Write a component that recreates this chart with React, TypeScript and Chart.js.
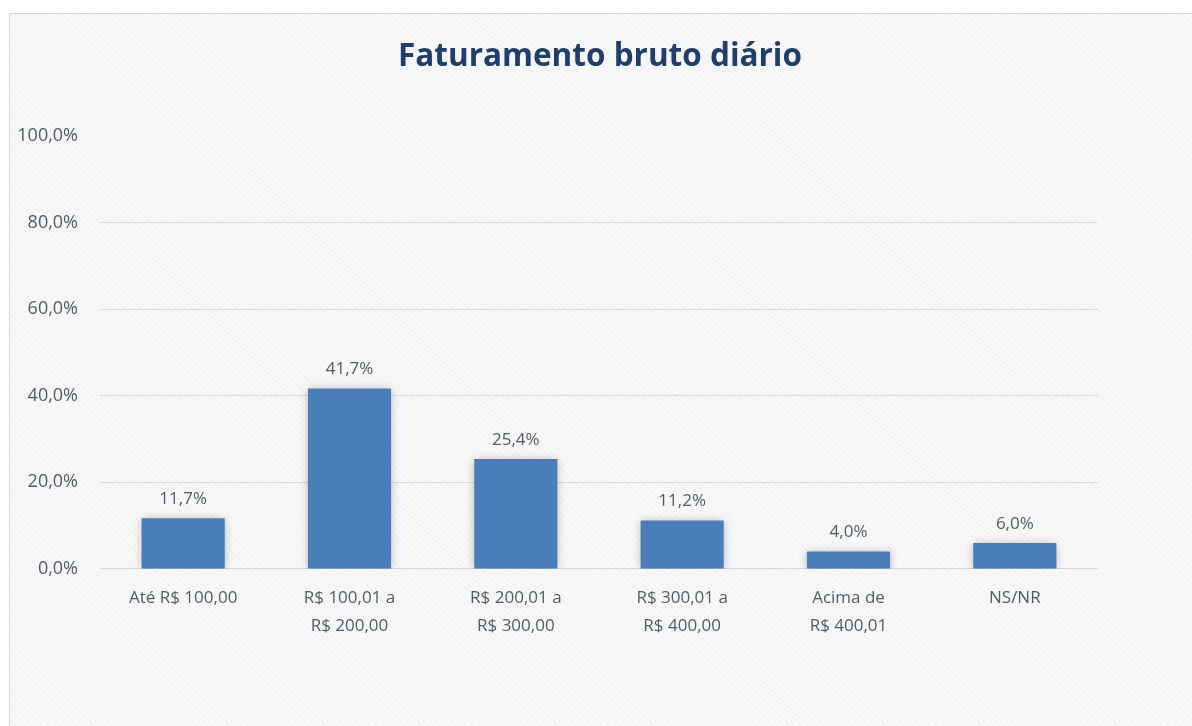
import React, { useEffect, useRef } from "react";
import { Chart, registerables } from "chart.js";

Chart.register(...registerables);

const TITLE = "Faturamento bruto diário";
const categories: (string | string[])[] = [
  "Até R$ 100,00",
  ["R$ 100,01 a", "R$ 200,00"],
  ["R$ 200,01 a", "R$ 300,00"],
  ["R$ 300,01 a", "R$ 400,00"],
  ["Acima de", "R$ 400,01"],
  "NS/NR",
];
const values = [11.7, 41.7, 25.4, 11.2, 4.0, 6.0];
const yMin = 0;
const yMax = 100;
const yStep = 20;

const TEXT = "#525c68";
const FONT = "'Open Sans', sans-serif";

const fmt = (v: number) => v.toFixed(1).replace(".", ",") + "%";

const shadowPlugin = {
  id: "barShadow",
  beforeDatasetDraw(chart: any) {
    const ctx = chart.ctx;
    ctx.save();
    ctx.shadowColor = "rgba(0,0,0,0.28)";
    ctx.shadowBlur = 9;
    ctx.shadowOffsetX = 0;
    ctx.shadowOffsetY = 1;
  },
  afterDatasetDraw(chart: any) {
    chart.ctx.restore();
  },
};

const labelPlugin = {
  id: "valueLabels",
  afterDatasetsDraw(chart: any) {
    const ctx = chart.ctx;
    const meta = chart.getDatasetMeta(0);
    ctx.save();
    ctx.font = `17px ${FONT}`;
    ctx.fillStyle = TEXT;
    ctx.textAlign = "center";
    ctx.textBaseline = "middle";
    meta.data.forEach((bar: any, i: number) => {
      ctx.fillText(fmt(values[i]), bar.x, bar.y - 19);
    });
    ctx.restore();
  },
};

const titlePlugin = {
  id: "centerTitle",
  afterDraw(chart: any) {
    const ctx = chart.ctx;
    ctx.save();
    ctx.font = `bold 31.5px ${FONT}`;
    ctx.fillStyle = "#1f3e6b";
    ctx.textAlign = "center";
    ctx.textBaseline = "middle";
    ctx.fillText(TITLE, chart.width / 2 - 1, 43);
    ctx.restore();
  },
};

export default function App() {
  const ref = useRef<HTMLCanvasElement | null>(null);

  useEffect(() => {
    if (!ref.current) return;
    const chart = new Chart(ref.current, {
      type: "bar",
      data: {
        labels: categories,
        datasets: [
          {
            data: values,
            backgroundColor: "#4a7ebb",
            borderWidth: 0,
            barPercentage: 0.5,
            categoryPercentage: 1,
          },
        ],
      },
      options: {
        animation: false,
        responsive: false,
        maintainAspectRatio: false,
        layout: { padding: { left: 0, right: 94, top: 122, bottom: 71 } },
        plugins: {
          legend: { display: false },
          tooltip: { enabled: false },
          title: { display: false },
        },
        scales: {
          x: {
            grid: { display: false, drawTicks: false },
            border: { display: false },
            ticks: {
              color: TEXT,
              font: { family: FONT, size: 17, lineHeight: 1.65 },
              padding: 15,
              maxRotation: 0,
              autoSkip: false,
            },
          },
          y: {
            min: yMin,
            max: yMax,
            afterFit(scale: any) {
              scale.width = 90;
            },
            border: { display: false },
            grid: {
              drawTicks: false,
              color: (c: any) =>
                c.tick && c.tick.value === yMax ? "rgba(0,0,0,0)" : "#d9d9d9",
              lineWidth: 1,
            },
            ticks: {
              stepSize: yStep,
              color: TEXT,
              font: { family: FONT, size: 18 },
              padding: 22,
              callback: (v: any) => fmt(Number(v)),
            },
          },
        },
      },
      plugins: [shadowPlugin, labelPlugin, titlePlugin],
    });
    return () => chart.destroy();
  }, []);

  return (
    <div
      style={{
        position: "absolute",
        left: 9,
        top: 13,
        width: 1183,
        height: 713,
        borderTop: "1px solid #d6d6d6",
        borderLeft: "1px solid #d6d6d6",
        backgroundColor: "#f8f8f8",
        backgroundImage:
          "repeating-linear-gradient(45deg, rgba(0,0,0,0.028) 0px, rgba(0,0,0,0.028) 1px, rgba(0,0,0,0) 1px, rgba(0,0,0,0) 4px)",
        overflow: "hidden",
      }}
    >
      <canvas ref={ref} width={1182} height={712} style={{ display: "block" }} />
    </div>
  );
}
